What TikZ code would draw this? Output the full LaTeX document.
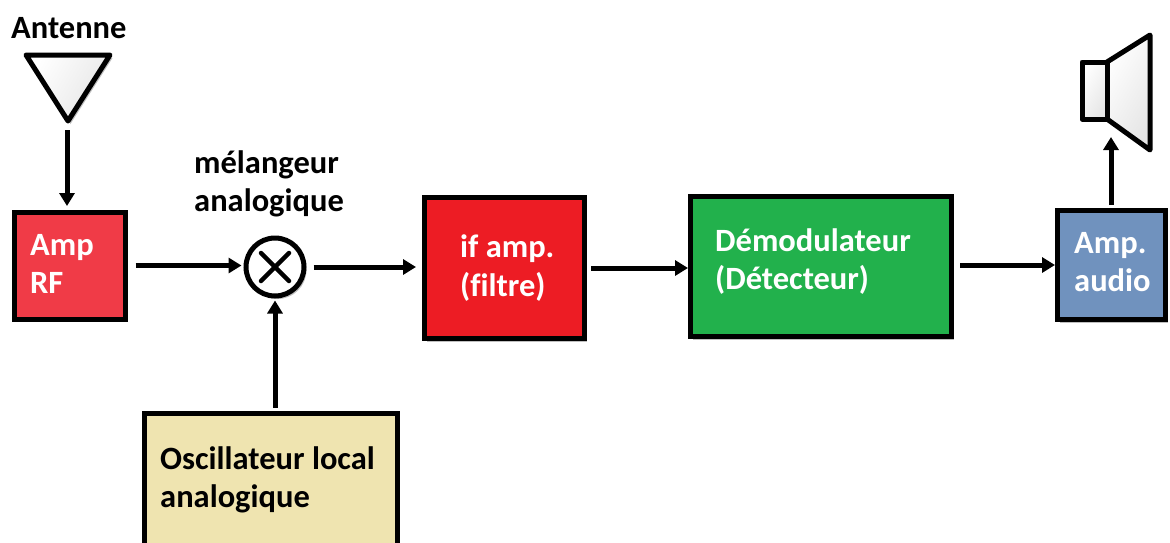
\documentclass[tikz,border=0pt]{standalone}
\usepackage{fontspec}
\setmainfont[Ligatures=NoCommon]{Carlito}
\usetikzlibrary{shadows,arrows.meta}
\definecolor{ampred}{HTML}{F03B47}
\definecolor{ifred}{HTML}{ED1C24}
\definecolor{demgreen}{HTML}{22B14C}
\definecolor{audblue}{HTML}{7092BE}
\definecolor{oscbeige}{HTML}{EFE4B0}
\tikzset{
  softshadow/.style={drop shadow={shadow xshift=2.5pt,shadow yshift=-3pt,opacity=.25,fill=black}},
  blockbox/.style={draw=black,line width=5pt,rectangle,softshadow},
  whitetxt/.style={font=\bfseries\fontsize{32.5}{38.5}\selectfont,text=white,align=left,anchor=west,inner sep=0pt},
  blacktxt/.style={font=\bfseries\fontsize{32.5}{38.5}\selectfont,text=black,align=left,anchor=west,inner sep=0pt},
  arrowline/.style={line width=5pt,-{Triangle[length=13pt,width=15pt]}},
  sym/.style={draw=black,line width=5pt,line join=round},
  symshade/.style={left color=white,right color=black!10,shading angle=60}
}
\begin{document}
\begin{tikzpicture}[x=1pt,y=-1pt]
\clip (0,0) rectangle (1170,542);
\fill[white] (0,0) rectangle (1170,542);
% boxes
\node[blockbox,fill=ampred,minimum width=111pt,minimum height=107pt] (amp) at (69.5,265.5) {};
\node[blockbox,fill=ifred,minimum width=160pt,minimum height=141pt] (ifamp) at (504.5,268) {};
\node[blockbox,fill=demgreen,minimum width=261pt,minimum height=140pt] (dem) at (821,266.5) {};
\node[blockbox,fill=audblue,minimum width=108pt,minimum height=109pt] (aud) at (1111.5,265) {};
\node[blockbox,fill=oscbeige,minimum width=253pt,minimum height=160pt] (osc) at (271,493) {};
\node[draw=black,line width=5pt,circle,fill=white,minimum size=58pt,inner sep=0pt,softshadow] (mix) at (275,267) {};
\draw[line width=4.5pt,line cap=round] (mix.center)+(-14,-14) -- +(14,14);
\draw[line width=4.5pt,line cap=round] (mix.center)+(-14,14) -- +(14,-14);
% texts
\node[whitetxt] (tamp) at (30,264) {Amp\\RF};
\node[whitetxt] (tif) at (460,268) {if amp.\\(filtre)};
\node[whitetxt] (tdem) at (715,261.5) {Démodulateur\\(Détecteur)};
\node[whitetxt] (taud) at (1074,262) {Amp.\\audio};
\node[blacktxt] (tosc) at (160,480) {Oscillateur local\\analogique};
\node[blacktxt] (tmix) at (194,184) {mélangeur\\analogique};
\node[blacktxt] (tant) at (11,28) {Antenne};
% antenna
\path[symshade,softshadow] (26,55) -- (110,55) -- (68,121) -- cycle;
\draw[sym,symshade] (26,55) -- (110,55) -- (68,121) -- cycle;
\coordinate (antout) at (67,130);
\coordinate (ampin) at (67,206);
% speaker
\draw[sym,symshade] (1107,62) -- (1150,35) -- (1150,150) -- (1107,119) -- cycle;
\draw[sym,symshade] (1082,62) rectangle (1107,119);
\coordinate (spkin) at (1111,137);
% connectors
\draw[arrowline] (antout) -- (ampin);
\draw[arrowline] ([xshift=8pt]amp.east) -- ([xshift=-2pt]mix.west |- amp.east);
\draw[arrowline] ([xshift=7pt]mix.east) -- ([xshift=-6pt]mix.east -| ifamp.west);
\draw[arrowline] ([xshift=4pt]ifamp.east) -- (ifamp.east -| dem.west);
\draw[arrowline] ([xshift=6pt]dem.east |- 0,265) -- (aud.west |- 0,265);
\draw[arrowline] (aud.north -| spkin) ++(0,-3) -- (spkin);
\draw[arrowline] ([yshift=3pt]osc.north -| mix.south) -- ([yshift=-2pt]mix.south);
\end{tikzpicture}
\end{document}
